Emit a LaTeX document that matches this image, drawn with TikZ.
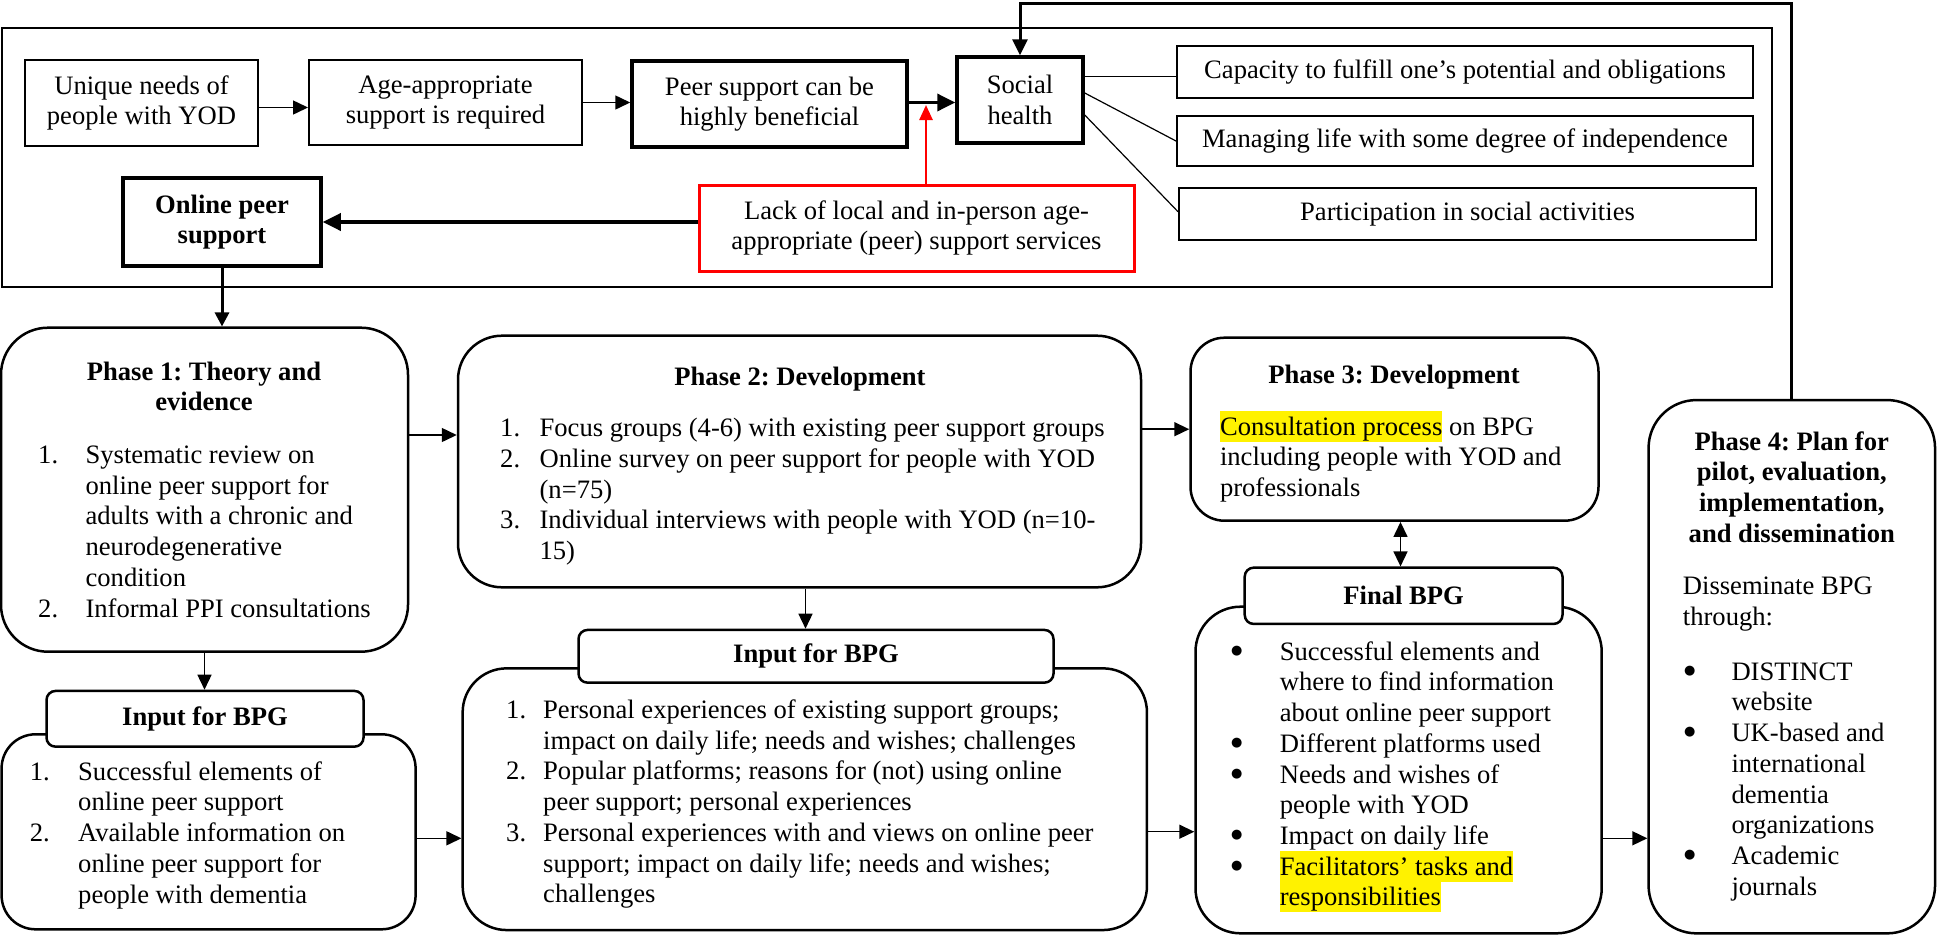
\documentclass[tikz,border=0pt]{standalone}
\usepackage{fontspec}
\setmainfont{Liberation Serif}[Ligatures=CommonOff]
\newfontfamily\dotfont{DejaVu Sans}
\usepackage{array}
\usetikzlibrary{arrows.meta,calc}
\newcommand\bsize{\fontsize{26.6}{30.7}\selectfont\frenchspacing}
\newcommand\markyellow[1]{\smash{\setlength{\fboxsep}{0pt}\colorbox{yellow}{\rule[-6.5pt]{0pt}{30.7pt}#1}}}
\newcommand\blt{\raisebox{6pt}{\fontsize{13}{13}\dotfont ●}}
\begin{document}
\begin{tikzpicture}[x=1pt,y=-1pt,
  font=\bsize,
  box/.style={draw,line width=2pt,inner sep=0pt,align=center,font=\bsize},
  heavy/.style={box,line width=3.5pt},
  phase/.style={draw,line width=2.5pt,rounded corners=#1,inner sep=0pt},
  tag/.style={draw,line width=2.5pt,rounded corners=9pt,fill=white,inner sep=0pt,font=\bsize\bfseries},
  txt/.style={anchor=base west,inner sep=0pt,font=\bsize},
  ctxt/.style={anchor=base,inner sep=0pt,font=\bsize\bfseries},
  arr/.style={line width=1.5pt,-{Triangle[length=15pt,width=14pt]}},
  bigarr/.style={line width=3.5pt,-{Triangle[length=18pt,width=17pt]}},
  link/.style={line width=1.2pt}
]
\useasboundingbox (0,0) rectangle (1937,935);

% ---------- context frame ----------
\node[draw,line width=2pt,minimum width=1770.5pt,minimum height=259pt,inner sep=0pt] (frame) at (886.75,157.5) {};

\node[box,minimum width=233pt,minimum height=86pt] (needs) at (141.5,103) {Unique needs of\\people with YOD};
\node[box,minimum width=273pt,minimum height=85pt] (agereq) at (445.5,102.5) {Age-appropriate\\support is required};
\node[heavy,minimum width=275pt,minimum height=86pt] (peer) at (769.5,104) {Peer support can be\\highly beneficial};
\node[heavy,minimum width=126pt,minimum height=86pt] (social) at (1020,100) {Social\\health};
\node[box,minimum width=576pt,minimum height=52pt] (capacity) at (1465,72) {Capacity to fulfill one’s potential and obligations};
\node[box,minimum width=576pt,minimum height=50pt] (managing) at (1465,141) {Managing life with some degree of independence};
\node[box,minimum width=577pt,minimum height=52pt] (particip) at (1467.5,214) {Participation in social activities};
\node[heavy,minimum width=198pt,minimum height=88pt,font=\bsize\bfseries] (online) at (222,222) {Online peer\\support};
\node[box,draw=red,line width=3pt,minimum width=435pt,minimum height=86pt] (lack) at (916.5,228) {Lack of local and in-person age-\\appropriate (peer) support services};

\draw[arr] (needs.east |- 0,107.5) -- (agereq.west |- 0,107.5);
\draw[arr] (agereq.east) -- (agereq.east -| peer.west);
\draw[bigarr] (peer.east |- 0,102.5) -- (social.west |- 0,102.5);
\coordinate (meet) at (926,105);
\draw[red,line width=2.5pt,-{Triangle[length=15pt,width=13pt]}] (lack.north -| meet) -- (meet);
\draw[bigarr] (online.east -| lack.west) -- (online.east);
\draw[link] (social.east |- 0,76.7) -- (capacity.west |- 0,76.7);
\draw[link] (social.east |- 0,93) -- (managing.west);
\draw[link] (social.east |- 0,115) -- (particip.west |- 0,211.7);

% ---------- phases ----------
\node[phase=47pt,minimum width=407pt,minimum height=324pt] (phase1) at (204.5,489.7) {};
\node[phase=44pt,minimum width=683pt,minimum height=251.6pt] (phase2) at (799.5,461.5) {};
\node[phase=34pt,minimum width=408pt,minimum height=183pt] (phase3) at (1394.5,429.2) {};
\node[phase=48pt,minimum width=286.5pt,minimum height=533.3pt] (phase4) at (1791.8,666.7) {};
\node[phase=34pt,minimum width=414pt,minimum height=195pt] (input1) at (208.6,831.8) {};
\node[phase=44pt,minimum width=684.3pt,minimum height=261.7pt] (input2) at (804.8,799.2) {};
\node[phase=45pt,minimum width=406.2pt,minimum height=326.6pt] (final) at (1398.6,770) {};

\node[tag,minimum width=317pt,minimum height=55.7pt] (tag1) at (205,718.8) {Input for BPG};
\node[tag,minimum width=475pt,minimum height=52.7pt] (tag2) at (816,656.3) {Input for BPG};
\node[tag,minimum width=317.8pt,minimum height=56.3pt] (tagfinal) at (1403.6,595.8) {Final BPG};

% ---------- connectors between phases ----------
\draw[line width=3pt,-{Triangle[length=14pt,width=14pt]}] (online.south) -- (online.south |- phase1.north);
\draw[line width=3pt,-{Triangle[length=16pt,width=15pt]}] (phase4.north) -- (phase4.north |- 0,3) -| (social.north);
\draw[arr] (phase1.east |- 0,435) -- (phase2.west |- 0,435);
\draw[arr] (phase2.east |- phase3.west) -- (phase3.west);
\draw[arr] (805.5,0 |- phase2.south) -- (805.5,0 |- tag2.north);
\draw[arr] (phase1.south) -- (phase1.south |- tag1.north);
\draw[line width=1.5pt,{Triangle[length=15pt,width=14pt]}-{Triangle[length=15pt,width=14pt]}] (1400.5,0 |- phase3.south) -- (1400.5,0 |- tagfinal.north);
\draw[arr] (input1.east |- 0,838.3) -- (input2.west |- 0,838.3);
\draw[arr] (input2.east |- 0,831.7) -- (final.west |- 0,831.7);
\draw[arr] (final.east |- 0,838.3) -- (phase4.west |- 0,838.3);

% ---------- texts inside the phases ----------
\node[ctxt] (p1title) at (204,380.2) {\begin{tabular}[t]{@{}c@{}}Phase 1: Theory and\\evidence\end{tabular}};
\node[txt] (p1list) at (38,463.5) {\begin{tabular}[t]{@{}p{47.4pt}@{}l@{}}
1. & Systematic review on\\
 & online peer support for\\
 & adults with a chronic and\\
 & neurodegenerative\\
 & condition\\
2. & Informal PPI consultations
\end{tabular}};

\node[ctxt] (p2title) at (800,385.2) {Phase 2: Development};
\node[txt] (p2list) at (500,436.8) {\begin{tabular}[t]{@{}p{39.4pt}@{}l@{}}
1. & Focus groups (4-6) with existing peer support groups\\
2. & Online survey on peer support for people with YOD\\
 & (n=75)\\
3. & Individual interviews with people with YOD (n=10-\\
 & 15)
\end{tabular}};

\node[ctxt] (p3title) at (1394,383.5) {Phase 3: Development};
\node[txt] (p3text) at (1219.8,435.2) {\begin{tabular}[t]{@{}l@{}}
\markyellow{Consultation process} on BPG\\
including people with YOD and\\
professionals
\end{tabular}};

\node[ctxt] (p4title) at (1791.8,450.2) {\begin{tabular}[t]{@{}c@{}}Phase 4: Plan for\\pilot, evaluation,\\implementation,\\and dissemination\end{tabular}};
\node[txt] (p4intro) at (1682.7,594.5) {\begin{tabular}[t]{@{}l@{}}Disseminate BPG\\through:\end{tabular}};
\node[txt] (p4list) at (1684,680.2) {\begin{tabular}[t]{@{}p{47.3pt}@{}l@{}}
\blt & DISTINCT\\
 & website\\
\blt & UK-based and\\
 & international\\
 & dementia\\
 & organizations\\
\blt & Academic\\
 & journals
\end{tabular}};

\node[txt] (finallist) at (1231,660.2) {\begin{tabular}[t]{@{}p{48.6pt}@{}l@{}}
\blt & Successful elements and\\
 & where to find information\\
 & about online peer support\\
\blt & Different platforms used\\
\blt & Needs and wishes of\\
 & people with YOD\\
\blt & Impact on daily life\\
\blt & \markyellow{Facilitators’ tasks and}\\
 & \markyellow{responsibilities}
\end{tabular}};

\node[txt] (in1list) at (29.7,780.2) {\begin{tabular}[t]{@{}p{48.3pt}@{}l@{}}
1. & Successful elements of\\
 & online peer support\\
2. & Available information on\\
 & online peer support for\\
 & people with dementia
\end{tabular}};

\node[txt] (in2list) at (506,718.5) {\begin{tabular}[t]{@{}p{37pt}@{}l@{}}
1. & Personal experiences of existing support groups;\\
 & impact on daily life; needs and wishes; challenges\\
2. & Popular platforms; reasons for (not) using online\\
 & peer support; personal experiences\\
3. & Personal experiences with and views on online peer\\
 & support; impact on daily life; needs and wishes;\\
 & challenges
\end{tabular}};
\end{tikzpicture}
\end{document}
